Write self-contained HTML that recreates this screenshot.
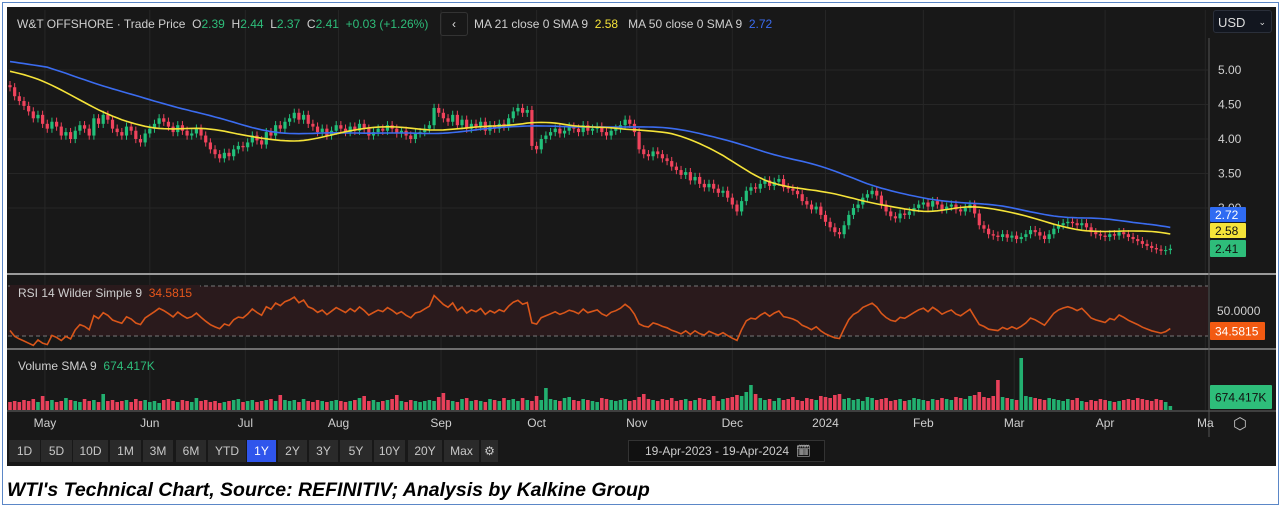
<!DOCTYPE html>
<html><head><meta charset="utf-8"><style>
body{margin:0;width:1284px;height:510px;background:#fff;overflow:hidden;font-family:"Liberation Sans",sans-serif}
#frame{position:absolute;left:2px;top:2px;width:1277px;height:503px;border:1px solid #5b87c7;box-sizing:border-box}
#chart{position:absolute;left:7px;top:7px;width:1269px;height:459px;background:#181818}
.btn{position:absolute;top:440px;height:22px;background:#2a2a2a;color:#c8c8c8;font-size:12px;line-height:22px;text-align:center}
.lbl{position:absolute;font-size:12px;color:#cfcfcf}
#caption{position:absolute;left:7px;top:479px;font-size:19.5px;font-style:italic;font-weight:bold;color:#000;letter-spacing:0px}
</style></head><body>
<div id="frame"></div>
<div id="chart"></div>
<svg id="svg" width="1284" height="510" style="position:absolute;left:0;top:0"></svg>
<div class="lbl" style="left:17px;top:17px;font-size:12px">W&amp;T OFFSHORE · Trade Price&nbsp; O<span style="color:#2ebd7a">2.39</span>&nbsp; H<span style="color:#2ebd7a">2.44</span>&nbsp; L<span style="color:#2ebd7a">2.37</span>&nbsp; C<span style="color:#2ebd7a">2.41</span>&nbsp; <span style="color:#2ebd7a">+0.03 (+1.26%)</span></div>
<div style="position:absolute;left:440px;top:12px;width:26px;height:22px;border:1px solid #333;border-radius:3px;color:#ddd;font-size:12px;text-align:center;line-height:22px">‹</div>
<div class="lbl" style="left:474px;top:17px">MA 21 close 0 SMA 9&nbsp; <span style="color:#f5e339">2.58</span>&nbsp;&nbsp; MA 50 close 0 SMA 9&nbsp; <span style="color:#3b6cf0">2.72</span></div>
<div style="position:absolute;left:1213px;top:10px;width:59px;height:23px;background:#12161f;border:1px solid #2a2f3a;border-radius:3px;color:#ddd;font-size:13px;line-height:23px;padding-left:4px;box-sizing:border-box">USD <span style="float:right;margin-right:5px;font-size:9px">⌄</span></div>
<div class="lbl" style="left:10px;top:285px;background:#2a1a1c;padding:1px 8px">RSI 14 Wilder Simple 9&nbsp; <span style="color:#e8571b">34.5815</span></div>
<div class="lbl" style="left:18px;top:359px">Volume SMA 9&nbsp; <span style="color:#2ebd7a">674.417K</span></div>
<div id="btns"></div>
<div style="position:absolute;left:628px;top:440px;width:197px;height:22px;background:#111;border:1px solid #333;box-sizing:border-box;color:#ccc;font-size:12px;line-height:20px;padding-left:16px">19-Apr-2023 - 19-Apr-2024 &nbsp;🗓</div>
<div style="position:absolute;left:1233px;top:414px;color:#bbb;font-size:16px">⬡</div>
<div id="caption">WTI's Technical Chart, Source: REFINITIV; Analysis by Kalkine Group</div>
<script>
const priorCloses=[5.55,5.5,5.52,5.45,5.4,5.42,5.38,5.35,5.4,5.3,5.32,5.28,5.3,5.25,5.22,5.28,5.2,5.18,5.22,5.15,5.2,5.12,5.1,5.15,5.08,5.1,5.05,5.12,5.08,5.15,5.1,5.05,5.08,5.0,4.98,5.02,4.95,4.9,4.95,4.92,4.88,4.9,4.85,4.82,4.88,4.85,4.8,4.82,4.78];
const closes=[4.75,4.62,4.55,4.48,4.40,4.30,4.35,4.22,4.15,4.25,
4.18,4.05,4.10,4.00,4.12,4.20,4.15,4.05,4.30,4.22,
4.35,4.28,4.15,4.10,4.05,4.18,4.12,4.00,3.95,4.08,
4.15,4.22,4.30,4.25,4.18,4.10,4.20,4.12,4.05,4.08,
4.15,4.05,3.95,3.85,3.78,3.72,3.80,3.75,3.85,3.90,
3.88,3.95,4.05,3.98,3.92,4.10,4.05,4.20,4.15,4.25,
4.30,4.38,4.28,4.35,4.22,4.18,4.10,4.15,4.05,4.12,
4.20,4.15,4.10,4.18,4.12,4.22,4.15,4.05,4.10,4.15,
4.12,4.20,4.15,4.08,4.12,4.05,4.00,4.08,4.10,4.15,
4.20,4.45,4.38,4.30,4.25,4.35,4.20,4.28,4.15,4.22,
4.18,4.25,4.12,4.20,4.15,4.22,4.18,4.30,4.40,4.45,
4.38,4.42,3.90,3.85,4.00,4.05,4.10,4.15,4.08,4.12,
4.18,4.15,4.10,4.20,4.12,4.15,4.18,4.10,4.05,4.12,
4.15,4.20,4.28,4.22,4.10,3.85,3.78,3.75,3.82,3.78,
3.72,3.68,3.60,3.55,3.48,3.52,3.40,3.45,3.35,3.30,
3.35,3.28,3.22,3.25,3.15,3.05,2.95,3.10,3.25,3.30,
3.28,3.35,3.40,3.32,3.38,3.42,3.30,3.28,3.25,3.20,
3.10,3.05,2.98,3.02,2.90,2.80,2.72,2.65,2.62,2.75,
2.90,3.00,3.05,3.15,3.20,3.25,3.18,3.05,2.95,2.88,
2.85,2.92,2.90,2.95,3.00,3.05,3.08,3.02,3.10,3.05,
2.98,3.02,3.05,2.98,2.95,3.00,3.05,2.92,2.75,2.70,
2.62,2.60,2.58,2.62,2.57,2.60,2.55,2.58,2.62,2.68,
2.65,2.60,2.55,2.62,2.70,2.75,2.78,2.80,2.78,2.75,
2.78,2.72,2.65,2.62,2.60,2.58,2.62,2.60,2.65,2.62,
2.58,2.55,2.52,2.48,2.45,2.42,2.40,2.38,2.39,2.41];
const volumes=[8,9,8,10,9,11,8,14,9,10,
8,9,12,10,9,8,11,9,10,8,
16,9,10,8,9,10,8,11,9,10,
8,9,7,10,11,9,8,10,9,8,
12,9,10,8,9,7,8,9,10,11,
8,9,10,8,9,10,11,9,15,10,
9,10,8,11,9,8,10,9,8,9,
10,9,8,9,10,12,14,9,10,8,
9,10,11,15,9,8,10,9,8,9,
10,9,13,17,10,9,8,11,12,9,
10,9,8,11,10,9,12,10,11,9,
12,10,9,14,10,22,11,10,9,12,
13,10,9,11,10,9,8,12,11,10,
9,10,11,9,10,13,16,11,10,9,
11,10,12,9,10,11,9,10,12,11,
10,14,9,11,12,13,15,14,18,25,
16,12,10,11,9,12,10,11,13,10,
9,12,11,10,14,13,12,15,16,11,
12,10,11,9,13,12,10,11,12,9,
10,11,9,10,12,11,10,9,11,10,
12,11,10,13,12,11,14,15,18,13,
12,14,30,13,12,11,10,52,14,13,
12,11,10,12,11,10,9,11,10,12,
9,8,10,9,11,10,9,8,9,10,
11,10,12,11,10,9,11,10,8,4];
const priceTicks=["5.00","4.50","4.00","3.50","3.00"];
const priceTickVals=[5,4.5,4,3.5,3];
const monthLabels=["May","Jun","Jul","Aug","Sep","Oct","Nov","Dec","2024","Feb","Mar","Apr","Ma"];
const monthIdx=[7.5,30,50.5,70.5,92.5,113,134.5,155,175,196,215.5,235,256.5];
const rsiTicks=["50.0000","25.0000"];
const rsiTickVals=[50,25];

const NS="http://www.w3.org/2000/svg",svg=document.getElementById('svg');
function el(t,a,p){const e=document.createElementNS(NS,t);for(const k in a)e.setAttribute(k,a[k]);(p||svg).appendChild(e);return e;}
const X0=10,STEP=4.66;
const xs=i=>X0+i*STEP;
const yP=p=>70+(5-p)*69;
const yR=v=>311-(v-50)*1.0;
const yV=v=>410-v*1.0;
const grid=el('g',{});
monthIdx.forEach(m=>{const x=xs(m);if(x<1208)el('line',{x1:x,y1:10,x2:x,y2:410,stroke:'#262626'},grid);});
priceTickVals.forEach(v=>el('line',{x1:8,y1:yP(v),x2:1208,y2:yP(v),stroke:'#262626'},grid));
el('line',{x1:7,y1:274,x2:1276,y2:274,stroke:'#9a9a9a','stroke-width':2});
el('line',{x1:7,y1:349,x2:1276,y2:349,stroke:'#8a8a8a','stroke-width':1.5});
el('line',{x1:7,y1:411,x2:1276,y2:411,stroke:'#666'});
el('line',{x1:1209,y1:38,x2:1209,y2:437,stroke:'#555'});
el('rect',{x:8,y:yR(75),width:1200,height:yR(25)-yR(75),fill:'#2a1a1c'});
[75,25].forEach(v=>el('line',{x1:8,y1:yR(v),x2:1208,y2:yR(v),stroke:'#777','stroke-dasharray':'4,3'}));
const all=priorCloses.concat(closes),off=priorCloses.length;
const cg=el('g',{});
closes.forEach((c,i)=>{const o=all[off+i-1];const up=c>=o;const col=up?'#22c07a':'#f0435c';const x=xs(i);
 const hi=Math.max(o,c)+0.06,lo=Math.min(o,c)-0.06;
 const g=el('g',{},cg);
 el('line',{x1:x,y1:yP(hi),x2:x,y2:yP(lo),stroke:col},g);
 const t=yP(Math.max(o,c)),b=yP(Math.min(o,c));
 el('rect',{x:x-1.6,y:t,width:3.2,height:Math.max(1,b-t),fill:col},g);
 const v=el('rect',{x:x-1.8,y:yV(volumes[i]),width:3.6,height:volumes[i]*1.0,fill:up?'#22b070':'#e8405a'});
 
});
function sma(n){const raw=all.map((_,j)=>{if(j<n-1)return null;let s=0;for(let k=0;k<n;k++)s+=all[j-k];return s/n;});
 return closes.map((_,i)=>{const j=off+i;let s=0,c=0;for(let k=0;k<9;k++){const v=raw[j-k];if(v!=null){s+=v;c++;}}return s/c;});}
function line(vals,col,name){const d=vals.map((v,i)=>(i?'L':'M')+xs(i).toFixed(1)+','+yP(v).toFixed(1)).join('');const p=el('path',{d,fill:'none',stroke:col,'stroke-width':1.6});}
line(sma(50),'#3b6cf0','ma50-line');line(sma(21),'#f5e339','ma21-line');
let ag=0,al=0;const rsi=[];
for(let j=1;j<all.length;j++){const d=all[j]-all[j-1];const g=Math.max(d,0),l=Math.max(-d,0);
 if(j<=14){ag+=g/14;al+=l/14;}else{ag=(ag*13+g)/14;al=(al*13+l)/14;}
 if(j>=off)rsi.push(al===0?100:100-100/(1+ag/al));}
const rd=rsi.map((v,i)=>(i?'L':'M')+xs(i).toFixed(1)+','+yR(v).toFixed(1)).join('');
const rp=el('path',{d:rd,fill:'none',stroke:'#d9561a','stroke-width':1.6});
function txt(x,y,s,col,name,anchor){const t=el('text',{x,y,fill:col||'#cfcfcf','font-size':12,'font-family':'Liberation Sans, sans-serif','text-anchor':anchor||'start'});t.textContent=s;return t;}
priceTicks.forEach((s,i)=>txt(1218,yP(priceTickVals[i])+4,s,null,'price-tick'));
rsiTicks.forEach((s,i)=>txt(1217,yR(rsiTickVals[i])+4,s,null,'rsi-tick'));
monthLabels.forEach((s,i)=>txt(xs(monthIdx[i]),427,s,null,'month-tick','middle'));
function badge(y,h,w,bg,fg,s,name){const r=el('rect',{x:1210,y,width:w,height:h,fill:bg,rx:1});txt(1215,y+h/2+4.5,s,fg,name+'-text');}
badge(207,15,36,'#2f6bf2','#fff','2.72','ma50-badge');
badge(223,15,36,'#f5e339','#111','2.58','ma21-badge');
badge(240,17,36,'#2ebd7a','#111','2.41','price-badge');
badge(322,18,55,'#f25a12','#fff','34.5815','rsi-badge');
badge(385,24,62,'#2ebd7a','#111','674.417K','volume-badge');
const btns=[["1D",9,31],["5D",41,31],["10D",73,35],["1M",110,31],["3M",143,30],["6M",176,30],["YTD",208,38],["1Y",247,29],["2Y",278,29],["3Y",309,29],["5Y",340,32],["10Y",374,31],["20Y",408,34],["Max",444,35],["⚙",481,17]];
const bc=document.getElementById('btns');
btns.forEach(b=>{const d=document.createElement('div');d.className='btn';d.style.left=b[1]+'px';d.style.width=b[2]+'px';d.textContent=b[0];
 if(b[0]==='1Y'){d.style.background='#2f55ec';d.style.color='#fff';}
 
 bc.appendChild(d);});
</script>
</body></html>
